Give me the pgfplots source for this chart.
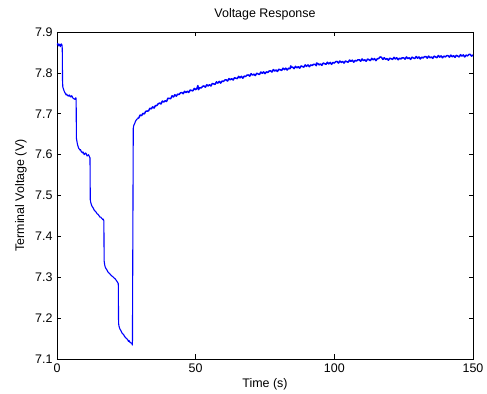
\documentclass[border=0pt]{standalone}
\usepackage{pgfplots}
\pgfplotsset{compat=1.18}
\usepackage{fontspec}
\setmainfont{Liberation Sans}
\begin{document}
\begin{tikzpicture}
\begin{axis}[
  scale only axis,
  width=416bp, height=327bp,
  xmin=0, xmax=150, ymin=7.1, ymax=7.9,
  xtick={0,50,100,150},
  ytick={7.1,7.2,7.3,7.4,7.5,7.6,7.7,7.8,7.9},
  yticklabels={7.1,7.2,7.3,7.4,7.5,7.6,7.7,7.8,7.9},
  xticklabels={0,50,100,150},
  tick align=inside,
  major tick length=4.5bp,
  tick style={black, line width=0.6bp},
  axis line style={black, line width=0.6bp},
  font=\fontsize{12.5}{14}\selectfont,
  /pgf/number format/assume math mode=true,
  title={Voltage Response},
  every axis title/.style={at={(axis description cs:0.5,1)}, anchor=center, yshift=18bp, inner sep=0pt},
  xlabel={Time (s)},
  ylabel={Terminal Voltage (V)},
  every axis x label/.style={at={(axis description cs:0.5,0)}, anchor=center, yshift=-25bp, inner sep=0pt},
  every axis y label/.style={at={(axis description cs:0,0.5)}, anchor=center, rotate=90, yshift=36bp, inner sep=0pt},
  xticklabel style={anchor=north, yshift=-1bp},
  yticklabel style={anchor=east, xshift=-1bp},
]
\addplot[color={rgb,255:red,0;green,0;blue,255}, line width=1.1bp, line join=round] coordinates {
(0,7.868) (0.3,7.872) (0.6,7.866) (0.9,7.870) (1.2,7.864) (1.5,7.871) (1.8,7.868) (1.9,7.860)
(2.0,7.780) (2.1,7.765) (2.5,7.757) (2.8,7.752) (3,7.750) (3.3,7.746) (3.5,7.748) (3.8,7.744) (4,7.745) (4.3,7.743) (4.5,7.746) (4.8,7.742) (5,7.741) (5.3,7.744) (5.5,7.742) (5.8,7.738) (6,7.737) (6.3,7.736) (6.5,7.735) (6.7,7.739) (6.9,7.738)
(7.0,7.640) (7.3,7.628) (7.5,7.622) (7.8,7.616) (8,7.614) (8.3,7.611) (8.5,7.612) (8.8,7.606) (9,7.607) (9.3,7.604) (9.5,7.606) (9.8,7.600) (10,7.601) (10.3,7.604) (10.5,7.603) (10.8,7.597) (11,7.597) (11.3,7.600) (11.5,7.598) (11.7,7.595) (11.9,7.592)
(12.0,7.490) (12.2,7.482) (12.4,7.478) (12.6,7.474) (12.8,7.472) (13,7.470) (13.3,7.466) (13.5,7.463) (13.8,7.462) (14,7.460) (14.3,7.457) (14.5,7.455) (14.8,7.454) (15,7.452) (15.3,7.449) (15.5,7.447) (15.8,7.447) (16,7.445) (16.3,7.443) (16.5,7.441) (16.7,7.442) (16.9,7.438)
(17.0,7.340) (17.2,7.330) (17.4,7.325) (17.6,7.322) (17.8,7.320) (18,7.318) (18.3,7.314) (18.5,7.312) (18.8,7.310) (19,7.309) (19.3,7.306) (19.5,7.305) (19.8,7.303) (20,7.302) (20.3,7.300) (20.5,7.299) (20.8,7.297) (21,7.296) (21.3,7.293) (21.5,7.291) (21.8,7.288) (22.1,7.284)
(22.2,7.190) (22.3,7.182) (22.5,7.177) (22.6,7.175) (22.8,7.172) (23,7.170) (23.3,7.166) (23.5,7.163) (23.8,7.161) (24,7.160) (24.3,7.156) (24.5,7.154) (24.8,7.152) (25,7.150) (25.3,7.149) (25.5,7.147) (25.8,7.143) (26,7.145) (26.3,7.141) (26.5,7.140) (26.8,7.139) (27,7.138) (27.2,7.134)
(27.35,7.400) (27.5,7.664) (27.7,7.672) (28,7.676) (28.2,7.680) (28.5,7.684) (29,7.688)
};
\addplot[color={rgb,255:red,0;green,0;blue,255}, line width=1.5bp, line join=round] coordinates {
(29,7.688) (29.5,7.690) (30,7.697) (30.5,7.6955) (31,7.701) (31.5,7.6995) (32,7.706) (32.5,7.7065) (33,7.707) (33.5,7.7135) (34,7.712) (34.5,7.717) (35,7.714) (35.5,7.720) (36,7.720) (36.5,7.7245)
(37,7.726) (37.5,7.724) (38,7.731) (38.5,7.7285) (39,7.732) (39.5,7.730) (40,7.738) (40.5,7.7375) (41,7.737) (41.5,7.744) (42,7.741) (42.5,7.7465) (43,7.743) (43.5,7.748) (44,7.747) (44.5,7.751)
(45,7.752) (45.5,7.749) (46,7.755) (46.5,7.752) (47,7.755) (47.5,7.752) (48,7.758) (48.5,7.757) (49,7.756) (49.5,7.762) (50,7.759) (50.5,7.763) (50.8,7.769) (51,7.759) (51.5,7.764) (52,7.763) (52.5,7.767)
(53,7.768) (53.5,7.765) (54,7.771) (54.5,7.768) (55,7.771) (55.5,7.768) (56,7.774) (56.5,7.773) (57,7.772) (57.5,7.778) (58,7.775) (58.5,7.779) (59,7.775) (59.5,7.780) (60,7.779) (60.5,7.7825)
(61,7.783) (61.5,7.780) (62,7.786) (62.5,7.783) (63,7.786) (63.5,7.7825) (64,7.788) (64.5,7.787) (65,7.786) (65.5,7.7915) (66,7.788) (66.5,7.7915) (67,7.787) (67.5,7.792) (68,7.791) (68.5,7.7945)
(69,7.795) (69.5,7.792) (70,7.798) (70.5,7.7945) (71,7.797) (71.5,7.7935) (72,7.799) (72.5,7.7975) (73,7.796) (73.5,7.802) (74,7.799) (74.5,7.8025) (75,7.798) (75.5,7.8025) (76,7.801) (76.5,7.8045)
(77,7.805) (77.5,7.802) (78,7.808) (78.5,7.8045) (79,7.807) (79.5,7.8035) (80,7.809) (80.5,7.8075) (81,7.806) (81.5,7.8115) (82,7.808) (82.5,7.8115) (83,7.807) (83.5,7.8115) (84,7.810) (84.3,7.817) (84.5,7.8135)
(85,7.814) (85.5,7.8105) (86,7.816) (86.5,7.8125) (87,7.815) (87.5,7.8115) (88,7.817) (88.5,7.8155) (89,7.814) (89.5,7.8195) (90,7.816) (90.5,7.8195) (91,7.815) (91.5,7.8195) (92,7.818) (92.5,7.821)
(93,7.821) (93.5,7.8175) (93.6,7.824) (94,7.823) (94.5,7.8195) (95,7.822) (95.5,7.8185) (96,7.824) (96.5,7.8225) (97,7.821) (97.5,7.826) (98,7.822) (98.5,7.8255) (99,7.821) (99.5,7.8255) (100,7.824) (100.5,7.8275)
(101,7.828) (101.5,7.824) (102,7.829) (102.5,7.8255) (103,7.828) (103.5,7.824) (104,7.829) (104.5,7.8275) (105,7.826) (105.5,7.8315) (106,7.828) (106.5,7.831) (107,7.826) (107.5,7.8305) (108,7.829) (108.5,7.832)
(109,7.832) (109.5,7.8285) (110,7.834) (110.5,7.830) (111,7.832) (111.5,7.8285) (112,7.834) (112.5,7.832) (113,7.830) (113.5,7.8355) (114,7.832) (114.5,7.835) (115,7.830) (115.5,7.8345) (116,7.835) (116.5,7.839)
(117,7.838) (117.5,7.833) (118,7.837) (118.5,7.833) (119,7.835) (119.5,7.831) (120,7.836) (120.5,7.8345) (121,7.833) (121.5,7.838) (122,7.834) (122.5,7.837) (123,7.832) (123.5,7.836) (124,7.834) (124.5,7.837)
(125,7.837) (125.5,7.8335) (126,7.839) (126.5,7.835) (127,7.837) (127.5,7.833) (128,7.8385) (128.5,7.8365) (129,7.835) (129.5,7.840) (130,7.836) (130.5,7.839) (131,7.834) (131.5,7.8385) (132,7.8365) (132.5,7.8395)
(133,7.840) (133.5,7.836) (134,7.841) (134.5,7.837) (135,7.839) (135.5,7.8355) (136,7.841) (136.5,7.839) (137,7.837) (137.5,7.8425) (138,7.8385) (138.5,7.8415) (139,7.837) (139.5,7.841) (140,7.839) (140.5,7.842)
(141,7.842) (141.5,7.8385) (142,7.8435) (142.5,7.8395) (143,7.842) (143.5,7.838) (144,7.843) (144.5,7.841) (145,7.839) (145.5,7.8445) (146,7.841) (146.5,7.844) (147,7.839) (147.5,7.8435) (148,7.8415) (148.5,7.845)
(149,7.845) (149.5,7.841) (150,7.844)
};
\end{axis}
\pgfresetboundingbox
\path[use as bounding box] (-57bp,-35bp) rectangle (430bp,359bp);
\end{tikzpicture}
\end{document}
